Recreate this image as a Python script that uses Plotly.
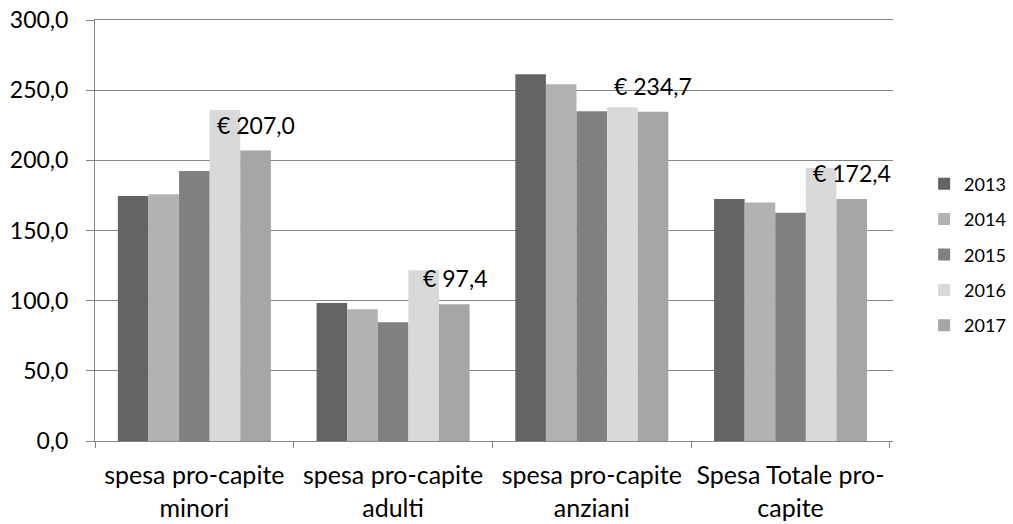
import plotly.graph_objects as go

categories = ["spesa pro-capite<br>minori", "spesa pro-capite<br>adulti",
              "spesa pro-capite<br>anziani", "Spesa Totale pro-<br>capite"]
years = ["2013", "2014", "2015", "2016", "2017"]
v2013 = [174.6, 98.3, 261.3, 172.4]
v2014 = [175.8, 93.8, 254.2, 169.9]
v2015 = [192.4, 84.6, 234.9, 162.7]
v2016 = [235.9, 121.6, 237.8, 194.5]
v2017 = [207.0, 97.4, 234.7, 172.4]
series = [v2013, v2014, v2015, v2016, v2017]
colors = ["#646464", "#b2b2b2", "#808080", "#d9d9d9", "#a6a6a6"]
y_ticks = [0, 50, 100, 150, 200, 250, 300]

W, H = 1013, 524
ML, MR, MT, MB = 95, 120, 20, 83
BARGAP = 0.23
FONT = "Lato"
GRID = "#868686"

fig = go.Figure()
for yr, vals, col in zip(years, series, colors):
    fig.add_trace(go.Bar(name=yr, x=categories, y=vals, marker_color=col,
                         marker_line_width=0, legendgroup=yr))

# data labels on the 2017 series
plot_w = W - ML - MR
cat_w = plot_w / len(categories)
bar_w = cat_w * (1 - BARGAP) / len(years)
idx = len(years) - 1
xshift = (idx - (len(years) - 1) / 2) * bar_w
for c, v in zip(categories, v2017):
    fig.add_annotation(x=c, y=v, xref="x", yref="y", xshift=xshift, yshift=10,
                       yanchor="bottom", showarrow=False,
                       text="€ " + f"{v:.1f}".replace(".", ","),
                       font=dict(family=FONT, size=23, color="#000000"))

fig.update_layout(
    width=W, height=H,
    margin=dict(l=ML, r=MR, t=MT, b=MB, autoexpand=False),
    barmode="group", bargap=BARGAP, bargroupgap=0,
    plot_bgcolor="white", paper_bgcolor="white",
    separators=",.",
    font=dict(family=FONT, color="#000000"),
    legend=dict(x=1.039, xanchor="left", y=0.443, yanchor="middle",
                traceorder="grouped", tracegroupgap=9,
                font=dict(family=FONT, size=18, color="#000000"),
                bgcolor="rgba(0,0,0,0)"),
    xaxis=dict(showline=True, linecolor=GRID, linewidth=1, automargin=False,
               mirror=True,
               ticks="outside", tickson="boundaries", ticklen=6, tickcolor=GRID,
               tickfont=dict(family=FONT, size=25, color="#000000"),
               ticklabelstandoff=12, showgrid=False),
    yaxis=dict(range=[0, 300], tickvals=y_ticks, tickformat=".1f",
               showline=True, linecolor=GRID, linewidth=1, automargin=False,
               ticks="outside", ticklen=8, tickcolor=GRID,
               showgrid=True, gridcolor=GRID, gridwidth=1,
               zeroline=False, ticklabeloverflow="allow",
               tickfont=dict(family=FONT, size=23, color="#000000"),
               ticklabelstandoff=13),
)

fig.write_html("out.html",
               config={"displayModeBar": False},
               post_script="document.body.style.margin='0';")
